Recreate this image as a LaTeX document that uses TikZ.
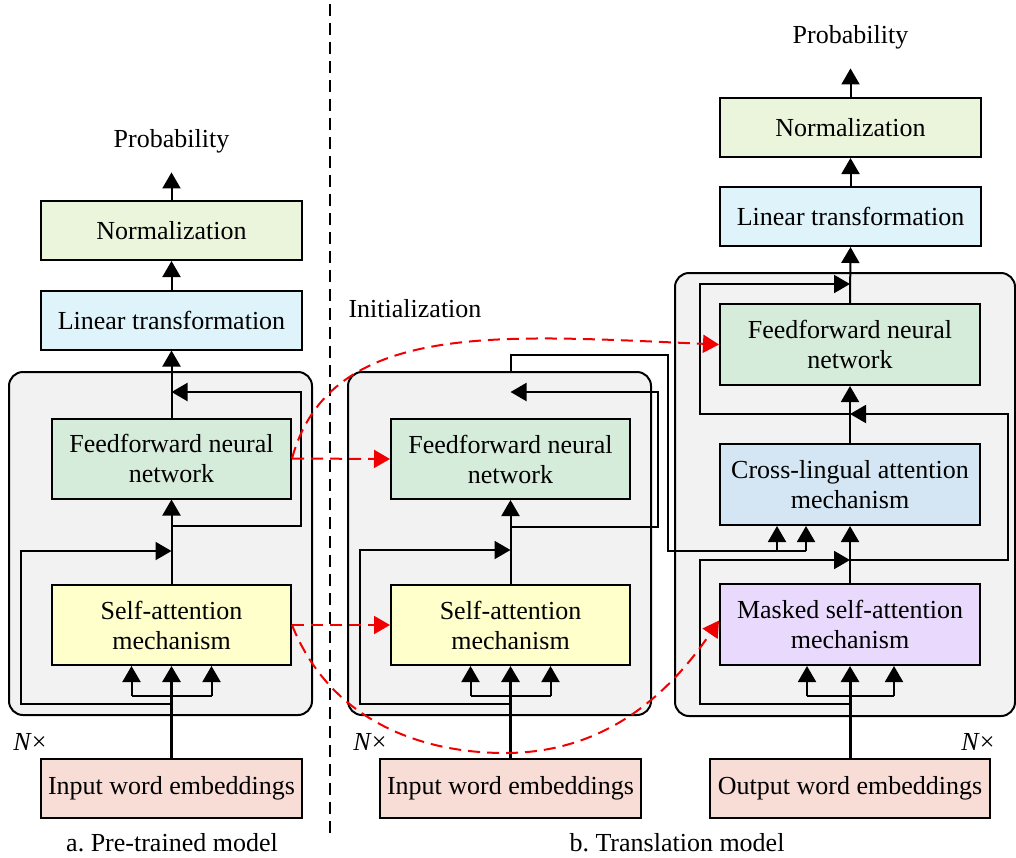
\documentclass[tikz,border=0pt]{standalone}
\usepackage{fontspec}
\setmainfont{Liberation Serif}
\usetikzlibrary{arrows.meta,calc}

\newlength{\du}
\setlength{\du}{0.5pt}

\definecolor{normcolor}{RGB}{235,245,220}
\definecolor{lincolor}{RGB}{223,243,251}
\definecolor{ffncolor}{RGB}{214,236,218}
\definecolor{sacolor}{RGB}{255,255,204}
\definecolor{crosscolor}{RGB}{212,230,243}
\definecolor{maskcolor}{RGB}{233,217,253}
\definecolor{embcolor}{RGB}{248,220,214}
\definecolor{blockgray}{RGB}{242,242,242}
\definecolor{initred}{RGB}{240,0,0}

\tikzset{
  textlabel/.style={font=\fontsize{13}{15}\selectfont, inner sep=0pt},
  outlabel/.style={textlabel, inner ysep=9.6pt},
  box/.style={draw, line width=1pt, align=center, inner sep=0pt,
    font=\fontsize{13}{15}\selectfont},
  widebox/.style={box, minimum width=130.5pt, minimum height=29.5pt},
  midbox/.style={box, minimum width=119.5pt, minimum height=40pt},
  decbox/.style={box, minimum width=130pt, minimum height=40.5pt},
  blockbox/.style={draw, fill=blockgray, line width=1pt, rounded corners=7pt},
  ln/.style={line width=1pt},
  arr/.style={ln, -{Triangle[length=8pt,width=9pt]}},
  initarr/.style={arr, initred, dash pattern=on 6pt off 3.5pt},
  sepline/.style={line width=1pt, dash pattern=on 6pt off 3.5pt}
}

\begin{document}
\begin{tikzpicture}[x=\du,y=\du]
\pgftransformyscale{-1.000000}
\useasboundingbox (0,0) rectangle (1016,857);

% separator
\draw[sepline] (330,4) -- (330,833);

% a. pre-trained model
\node[blockbox, minimum width=151.5pt, minimum height=171.5pt] (ptblock) at (160.5,543.5) {};
\node[outlabel] (ptprob) at (171.5,141) {Probability};
\node[widebox, fill=normcolor] (ptnorm) at (171.5,230.5) {Normalization};
\node[widebox, fill=lincolor] (ptlin) at (171.5,320) {Linear transformation};
\node[midbox, fill=ffncolor] (ptffn) at (171.5,458.5) {Feedforward neural\\network};
\node[midbox, fill=sacolor] (ptsa) at (171.5,625) {Self-attention\\mechanism};
\node[widebox, fill=embcolor] (ptemb) at (171.5,788.5) {Input word embeddings};
\node[textlabel] (ptrep) at (30,742) {\textit{N}×};
\node[textlabel] (ptcap) at (172,843) {a.\ Pre-trained model};

\draw[arr, line width=1.5pt] (ptemb.north) -- (ptsa.south);
\draw[ln] ([xshift=-20pt]ptsa.south |- 0,696) -- ([xshift=20pt]ptsa.south |- 0,696);
\foreach \dx in {-20,20}
  \draw[arr] ([xshift=\dx pt]ptsa.south |- 0,696) -- ([xshift=\dx pt]ptsa.south);
\draw[arr] (ptsa.south |- 0,704) -- ++(-150.5,0) |- (ptsa.north |- 0,551);
\draw[arr] (ptsa.north) -- (ptffn.south);
\draw[arr] (ptffn.south |- 0,526) -- ++(129.5,0) |- (ptffn.north |- 0,392);
\draw[arr] (ptffn.north) -- (ptlin.south);
\draw[arr] (ptlin.north) -- (ptnorm.south);
\draw[arr] (ptnorm.north) -- (ptprob.south);

% b. translation model, encoder
\node[blockbox, minimum width=151.5pt, minimum height=171.5pt] (encblock) at (499.5,543.5) {};
\node[midbox, fill=ffncolor] (encffn) at (510.5,459) {Feedforward neural\\network};
\node[midbox, fill=sacolor] (encsa) at (510.5,625) {Self-attention\\mechanism};
\node[widebox, fill=embcolor] (encemb) at (510.5,788.5) {Input word embeddings};
\node[textlabel] (encrep) at (370,742) {\textit{N}×};

\draw[arr, line width=1.5pt] (encemb.north) -- (encsa.south);
\draw[ln] ([xshift=-20pt]encsa.south |- 0,696) -- ([xshift=20pt]encsa.south |- 0,696);
\foreach \dx in {-20,20}
  \draw[arr] ([xshift=\dx pt]encsa.south |- 0,696) -- ([xshift=\dx pt]encsa.south);
\draw[arr] (encsa.south |- 0,704) -- ++(-150.5,0) |- (encsa.north |- 0,550);
\draw[arr] (encsa.north) -- (encffn.south);
\draw[arr] (encffn.south |- 0,527) -- ++(147.5,0) |- (encffn.north |- 0,392);

% b. translation model, decoder
\node[blockbox, minimum width=170pt, minimum height=221.5pt] (decblock) at (845,494.5) {};
\node[outlabel] (decprob) at (850.5,37) {Probability};
\node[widebox, fill=normcolor] (decnorm) at (850.5,127.5) {Normalization};
\node[widebox, fill=lincolor] (declin) at (850.5,216.5) {Linear transformation};
\node[decbox, fill=ffncolor] (decffn) at (850,344.5) {Feedforward neural\\network};
\node[decbox, fill=crosscolor] (deccross) at (850,484.5) {Cross-lingual attention\\mechanism};
\node[decbox, fill=maskcolor] (decmsa) at (850,624.5) {Masked self-attention\\mechanism};
\node[box, fill=embcolor, minimum width=140pt, minimum height=29.5pt] (decemb) at (850,788.5) {Output word embeddings};
\node[textlabel] (decrep) at (978,742) {\textit{N}×};
\node[textlabel] (deccap) at (677,843) {b.\ Translation model};

\draw[arr, line width=1.5pt] (decemb.north) -- (decmsa.south);
\draw[ln] ([xshift=-21.5pt]decmsa.south |- 0,696) -- ([xshift=22pt]decmsa.south |- 0,696);
\foreach \dx in {-21.5,22}
  \draw[arr] ([xshift=\dx pt]decmsa.south |- 0,696) -- ([xshift=\dx pt]decmsa.south);
\draw[arr] (decmsa.south |- 0,704) -- ++(-150,0) |- (decmsa.north |- 0,560);
\draw[arr] (decmsa.north) -- (deccross.south);
\draw[arr] (deccross.south |- 0,560) -- ++(158,0) |- (deccross.north |- 0,414);
\draw[arr] (deccross.north) -- (decffn.south);
\draw[arr] (decffn.south |- 0,414) -- ++(-150,0) |- (decffn.north |- 0,284);
\draw[arr] (decffn.north) -- (declin.south);
\draw[arr] (declin.north) -- (decnorm.south);
\draw[arr] (decnorm.north) -- (decprob.south);

% encoder output into cross-lingual attention
\draw[ln] (encffn.north |- encblock.north) -- ++(0,-16) -- ++(157.5,0)
  |- ([xshift=-22pt]deccross.south |- 0,551);
\foreach \dx in {-36.5,-22}
  \draw[arr] ([xshift=\dx pt]deccross.south |- 0,551) -- ([xshift=\dx pt]deccross.south);

% initialization
\node[textlabel] (initlabel) at (415,309) {Initialization};
\draw[initarr] (ptffn.east) -- (encffn.west);
\draw[initarr] (ptsa.east) -- (encsa.west);
\draw[initarr] (ptffn.east) .. controls (330,320) and (500,335) .. (decffn.west);
\draw[initarr] (ptsa.east) .. controls (330,720) and (420,753) .. (505,753)
  .. controls (600,753) and (665,700) .. ([yshift=-2pt]decmsa.west);
\end{tikzpicture}
\end{document}
